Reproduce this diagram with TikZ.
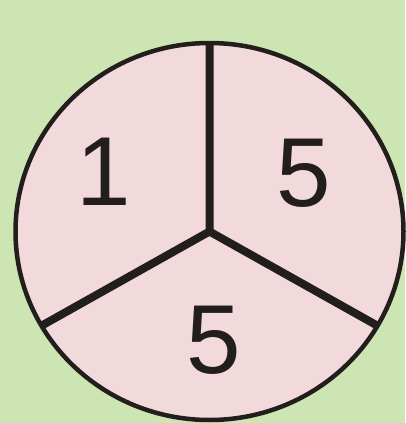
\documentclass[tikz,border=0pt]{standalone}
\usepackage{fontspec}
\setmainfont{Liberation Sans}
\usepackage{tikz}
\usetikzlibrary{calc}
\definecolor{leaf}{HTML}{CDE4B3}
\definecolor{blush}{HTML}{F2D9DC}
\definecolor{ink}{HTML}{221E1C}

\begin{document}
\begin{tikzpicture}[x=1pt, y=-1pt, every node/.style={font=\fontsize{98}{98}\selectfont, text=ink, inner sep=0pt}, rim/.style={draw=ink, line width=4.5pt}, spoke/.style={draw=ink, line width=8pt, line join=round}]
\fill[leaf] (0,0) rectangle (405,423);
\useasboundingbox (0,0) rectangle (405,423);
\coordinate (hub) at (209.5,231.5);
\coordinate (top) at ($(hub)+(90:194 and -188.5)$);
\coordinate (lower left) at ($(hub)+(210:194 and -188.5)$);
\coordinate (lower right) at ($(hub)+(330:194 and -188.5)$);
\fill[blush] (hub) ellipse [x radius=194, y radius=188.5];
\begin{scope}
\clip (hub) ellipse [x radius=194, y radius=188.5];
\draw[spoke] ($(top)+(0,-10)$) -- (hub) -- ($(hub)!1.1!(lower left)$);
\draw[spoke] (hub) -- ($(hub)!1.1!(lower right)$);
\end{scope}
\draw[rim] (hub) ellipse [x radius=194, y radius=188.5];
\node (one) at (104,172) {1};
\node (five right) at (304,173.5) {5};
\node (five bottom) at (214,340) {5};
\end{tikzpicture}
\end{document}
